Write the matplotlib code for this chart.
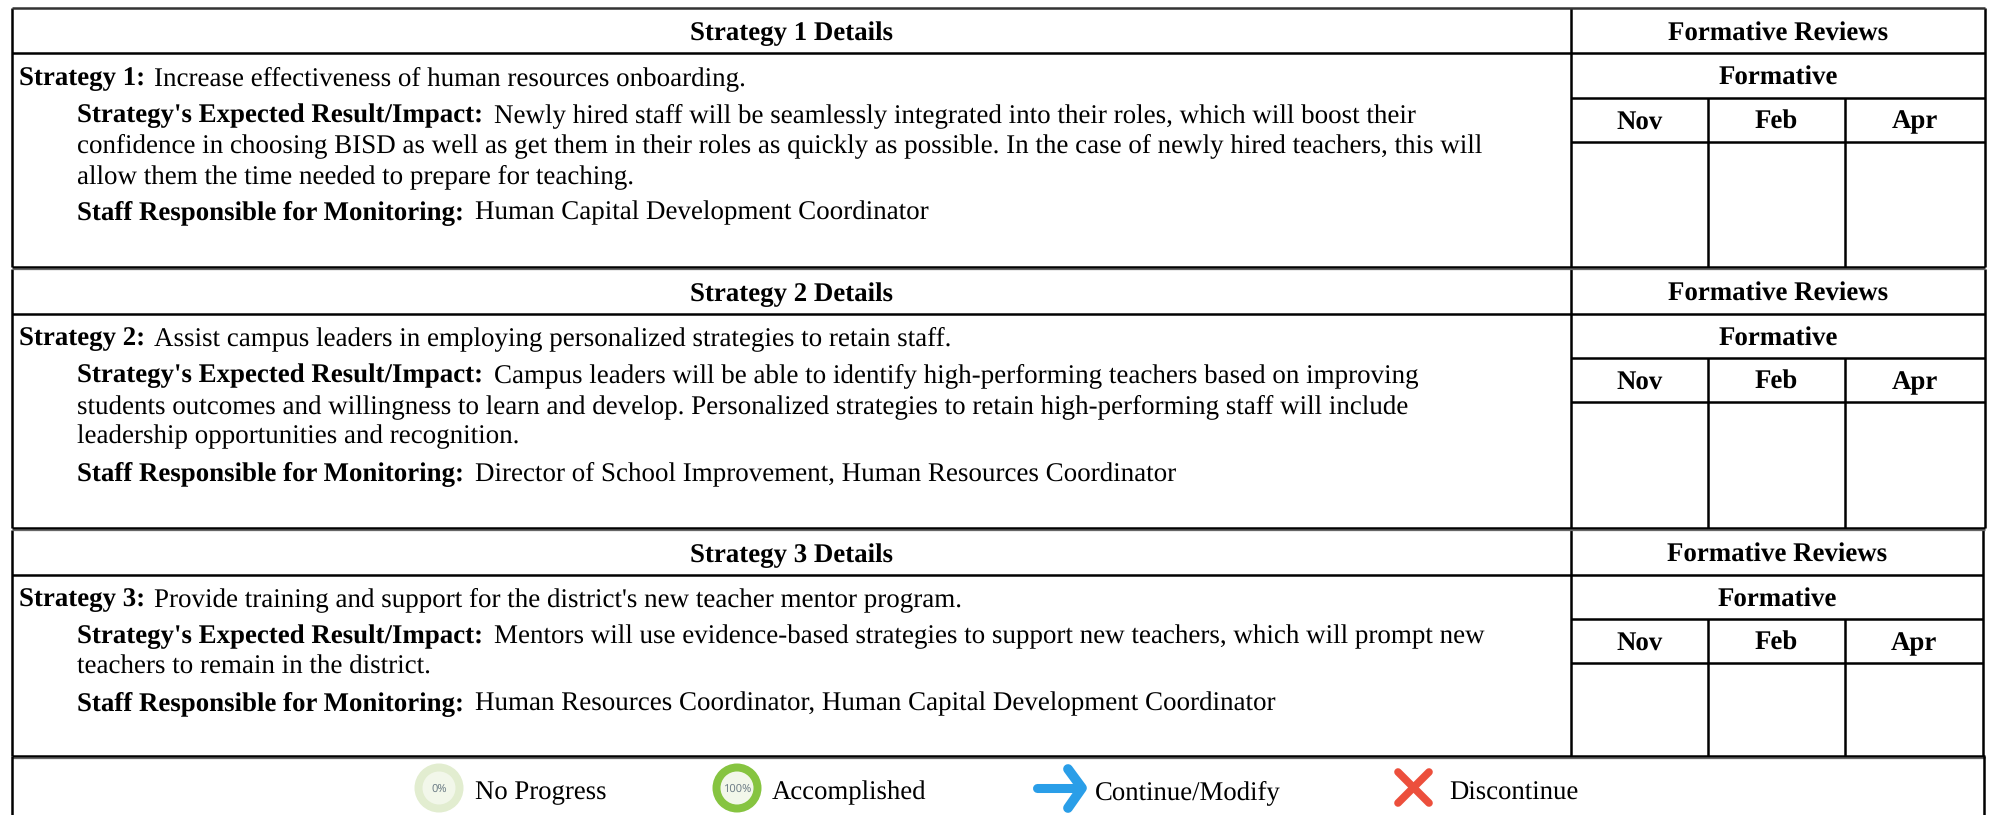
#!/usr/bin/env python3
"""
Strategy details table with formative review columns
"""

import matplotlib
matplotlib.use('Agg')
import matplotlib.pyplot as plt
from matplotlib.patches import Ellipse

plt.rcParams['font.family'] = ['Liberation Serif', 'DejaVu Serif']
plt.rcParams['text.hinting'] = 'none'

# table content
block_titles = ['Strategy 1 Details', 'Strategy 2 Details', 'Strategy 3 Details']
strategy_labels = ['Strategy 1:', 'Strategy 2:', 'Strategy 3:']
strategy_texts = [
    'Increase effectiveness of human resources onboarding.',
    'Assist campus leaders in employing personalized strategies to retain staff.',
    "Provide training and support for the district's new teacher mentor program.",
]
result_label = "Strategy's Expected Result/Impact:"
result_first = [
    'Newly hired staff will be seamlessly integrated into their roles, which will boost their',
    'Campus leaders will be able to identify high-performing teachers based on improving',
    'Mentors will use evidence-based strategies to support new teachers, which will prompt new',
]
result_rest = [
    ['confidence in choosing BISD as well as get them in their roles as quickly as possible. In the case of newly hired teachers, this will',
     'allow them the time needed to prepare for teaching.'],
    ['students outcomes and willingness to learn and develop. Personalized strategies to retain high-performing staff will include',
     'leadership opportunities and recognition.'],
    ['teachers to remain in the district.'],
]
staff_label = 'Staff Responsible for Monitoring:'
staff_texts = [
    'Human Capital Development Coordinator',
    'Director of School Improvement, Human Resources Coordinator',
    'Human Resources Coordinator, Human Capital Development Coordinator',
]
review_title = 'Formative Reviews'
review_sub = 'Formative'
months = ['Nov', 'Feb', 'Apr']
legend_labels = ['No Progress', 'Accomplished', 'Continue/Modify', 'Discontinue']
icon_labels = ['0%', '100%']

# layout, in pixels of the picture
W, H = 1990, 815
LEFT = 12
COL = [1571, 1708, 1845]
TOPS = [8, 268.5, 529.5]
BOTTOMS = [267, 528, 755.5]
RIGHTS = [1985, 1985, 1983]
FS = 19.45
FS_BOLD = 19.35
FS_LEGEND = 19.25
LW = 1.8

fig = plt.figure(figsize=(W / 100, H / 100), dpi=100)
ax = fig.add_axes([0, 0, 1, 1])
ax.set_xlim(0, W)
ax.set_ylim(H, 0)
ax.axis('off')
renderer = fig.canvas.get_renderer()


def hline(y, x0, x1, lw=LW, color='black'):
    ax.plot([x0, x1], [y, y], color=color, lw=lw, solid_capstyle='butt')


def vline(x, y0, y1, lw=LW):
    ax.plot([x, x], [y0, y1], color='black', lw=lw, solid_capstyle='butt')


def label_text(x, y, bold, plain, gap=10.5):
    # bold lead-in followed by regular text on the same baseline
    t = ax.text(x, y, bold, fontsize=FS_BOLD, fontweight='bold', va='baseline')
    x1 = x + t.get_window_extent(renderer).width + gap
    ax.text(x1, y, plain, fontsize=FS, va='baseline')


def centered(x, y, s):
    ax.text(x, y, s, fontsize=FS_BOLD, fontweight='bold', ha='center', va='baseline')


for i, top in enumerate(TOPS):
    bottom, right = BOTTOMS[i], RIGHTS[i]
    # grid
    hline(top + 45, LEFT, right)
    hline(top + 89.5, COL[0], right)
    hline(top + 133.5, COL[0], right)
    vline(COL[0], top, bottom)
    vline(COL[1], top + 89.5, bottom)
    vline(COL[2], top + 89.5, bottom)
    vline(LEFT, top, bottom)
    vline(right, top, bottom)
    # headers
    centered((LEFT + COL[0]) / 2, top + 32.5, block_titles[i])
    centered((COL[0] + right) / 2, top + 32.5, review_title)
    centered((COL[0] + right) / 2, top + 77, review_sub)
    for m, c0, c1 in zip(months, COL, COL[1:] + [right]):
        centered((c0 + c1) / 2, top + 120.5, m)
    # details
    label_text(19, top + 77, strategy_labels[i], strategy_texts[i], gap=8.5)
    label_text(77, top + 114, result_label, result_first[i])
    y = top + 114
    for line in result_rest[i]:
        y += 30.5
        ax.text(77, y, line, fontsize=FS, va='baseline')
    label_text(77, y + 36.5, staff_label, staff_texts[i], gap=11.5)

# outer top edge and the doubled separators between blocks
hline(TOPS[0], LEFT, RIGHTS[0], color='#333333')
for y in BOTTOMS:
    hline(y, LEFT, RIGHTS[0])
    hline(y + 2, LEFT, RIGHTS[0], lw=0.9, color='#666666')

# legend row
vline(LEFT, BOTTOMS[-1], H)
vline(1984, BOTTOMS[-1], H)

ring_colors = ['#e2edd0', '#86c440']
for x, ring, s in zip([439, 737], ring_colors, icon_labels):
    ax.add_patch(Ellipse((x, 788), 49, 49, color=ring, lw=0))
    ax.add_patch(Ellipse((x, 788), 33, 33, color='#f2f7ea', lw=0))
    ax.text(x, 792, s, fontsize=8, color='#6f7f88', fontweight='bold',
            ha='center', family=['Noto Sans'])

# arrow
ax.plot([1037, 1078], [788, 788], color='#2a9ee8', lw=6.5, solid_capstyle='round')
ax.plot([1068, 1082, 1068], [769, 788, 808], color='#2a9ee8', lw=7,
        solid_capstyle='round', solid_joinstyle='round')
# cross
ax.plot([1398, 1429], [772, 803], color='#ec4f3c', lw=5.5, solid_capstyle='round')
ax.plot([1429, 1398], [772, 803], color='#ec4f3c', lw=5.5, solid_capstyle='round')

for x, s in zip([475, 772, 1095, 1449], legend_labels):
    ax.text(x, 799.5, s, fontsize=FS_LEGEND, va='baseline')

plt.savefig('out.png', dpi=100)
